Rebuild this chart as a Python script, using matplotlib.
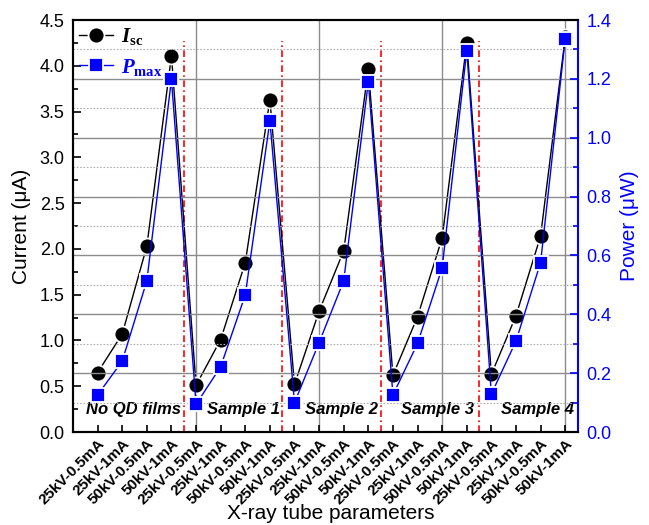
import matplotlib
matplotlib.use("Agg")
import matplotlib.pyplot as plt
from matplotlib.ticker import MultipleLocator
from matplotlib.transforms import ScaledTranslation

plt.rcParams['font.family'] = ['Liberation Sans', 'DejaVu Sans']
plt.rcParams['mathtext.fontset'] = 'custom'
plt.rcParams['mathtext.it'] = 'Liberation Serif:italic:bold'
plt.rcParams['mathtext.bf'] = 'Liberation Serif:bold'
plt.rcParams['mathtext.rm'] = 'Liberation Serif:bold'

params = ["25kV-0.5mA", "25kV-1mA", "50kV-0.5mA", "50kV-1mA"]
groups = ["No QD films", "Sample 1", "Sample 2", "Sample 3", "Sample 4"]
tick_labels = params * len(groups)

isc = [0.65, 1.07, 2.03, 4.11,
       0.51, 1.01, 1.85, 3.63,
       0.52, 1.32, 1.98, 3.96,
       0.62, 1.26, 2.12, 4.25,
       0.63, 1.27, 2.14, 4.31]
pmax = [0.126, 0.241, 0.514, 1.198,
        0.094, 0.222, 0.466, 1.057,
        0.100, 0.304, 0.514, 1.190,
        0.126, 0.301, 0.558, 1.296,
        0.129, 0.309, 0.576, 1.335]

x = list(range(len(isc)))

fig = plt.figure(figsize=(6.49, 5.25), dpi=100)
ax = fig.add_axes([0.1125, 0.1771, 0.7781, 0.7848])
ax2 = ax.twinx()

ax.set_xlim(-1.0, 19.52)
ax.set_ylim(0, 4.5)
ax2.set_ylim(0, 1.4)

# grid on right axis scale
for v in [0.2, 0.4, 0.6, 0.8, 1.0, 1.2]:
    ax2.axhline(v, color='#8c8c8c', lw=1.0, zorder=0)
for v in [0.1, 0.3, 0.5, 0.7, 0.9, 1.1, 1.3]:
    ax2.axhline(v, color='#b0b0b0', lw=0.8, ls=(0, (1.5, 1.5)), zorder=0)
for v in [4, 9, 14, 19]:
    ax.axvline(v, color='#8c8c8c', lw=1.0, zorder=0)

for b in [3.5, 7.5, 11.5, 15.5]:
    ax.axvline(b, ymin=0, ymax=0.95, color='red', lw=1.2, ls=(0, (4, 2, 1, 2)), zorder=1)

l1, = ax.plot(x, isc, color='black', lw=1.0, marker='o', ms=11.5, mfc='black',
              mec='white', mew=1.3, zorder=3, label=r'$\mathit{I}_{\mathbf{sc}}$')
l2, = ax2.plot(x, pmax, color='blue', lw=1.0, marker='s', ms=10.5, mfc='blue',
               mec='white', mew=1.3, zorder=3, label=r'$\mathit{P}_{\mathbf{max}}$')

text_x = [1.46, 5.92, 9.9, 13.83, 17.88]
for tx, g in zip(text_x, groups):
    ax.text(tx, 0.25, g, ha='center', va='center', fontsize=12,
            fontweight='bold', fontstyle='italic', zorder=4)

ax.set_xticks(x)
ax.set_xticklabels(tick_labels, rotation=45, ha='right', rotation_mode='anchor',
                   fontsize=11, fontweight='bold')
offset = ScaledTranslation(6 / 100, 0, fig.dpi_scale_trans)
for lab in ax.get_xticklabels():
    lab.set_transform(lab.get_transform() + offset)

ax.set_yticks([i * 0.5 for i in range(10)])
ax.set_yticklabels([f"{i*0.5:.1f}" for i in range(10)])
ax.yaxis.set_minor_locator(MultipleLocator(0.25))
ax2.set_yticks([i * 0.2 for i in range(8)])
ax2.set_yticklabels([f"{i*0.2:.1f}" for i in range(8)])
ax2.yaxis.set_minor_locator(MultipleLocator(0.1))

ax.tick_params(axis='y', which='major', direction='in', length=6, width=1.2, labelsize=13, pad=6)
ax.tick_params(axis='y', which='minor', direction='in', length=3.5, width=1.2)
ax.tick_params(axis='x', which='major', direction='in', length=5, width=1.2, pad=3)
ax2.tick_params(axis='y', which='major', direction='in', length=6, width=1.2,
                labelsize=13, colors='blue', pad=6)
ax2.tick_params(axis='y', which='minor', direction='in', length=3.5, width=1.2, colors='blue')

for s in ['left', 'bottom', 'top']:
    ax.spines[s].set_linewidth(1.5)
    ax2.spines[s].set_linewidth(1.5)
ax2.spines['right'].set_color('blue')
ax2.spines['right'].set_linewidth(1.5)
ax.spines['right'].set_visible(False)

ax.set_xlabel('X-ray tube parameters', fontsize=15)
ax.xaxis.set_label_coords(0.51, -0.175)
ax.set_ylabel('Current (μA)', fontsize=15, labelpad=6)
ax2.set_ylabel('Power (μW)', fontsize=15, color='blue', labelpad=6)

leg = ax2.legend([l1, l2], [l1.get_label(), l2.get_label()], loc='upper left',
                 frameon=False, fontsize=15, handlelength=1.6, handletextpad=0.4,
                 borderaxespad=0.05, labelspacing=0.45, borderpad=0.25)
leg.get_texts()[1].set_color('blue')

fig.savefig('out.png', dpi=100)
